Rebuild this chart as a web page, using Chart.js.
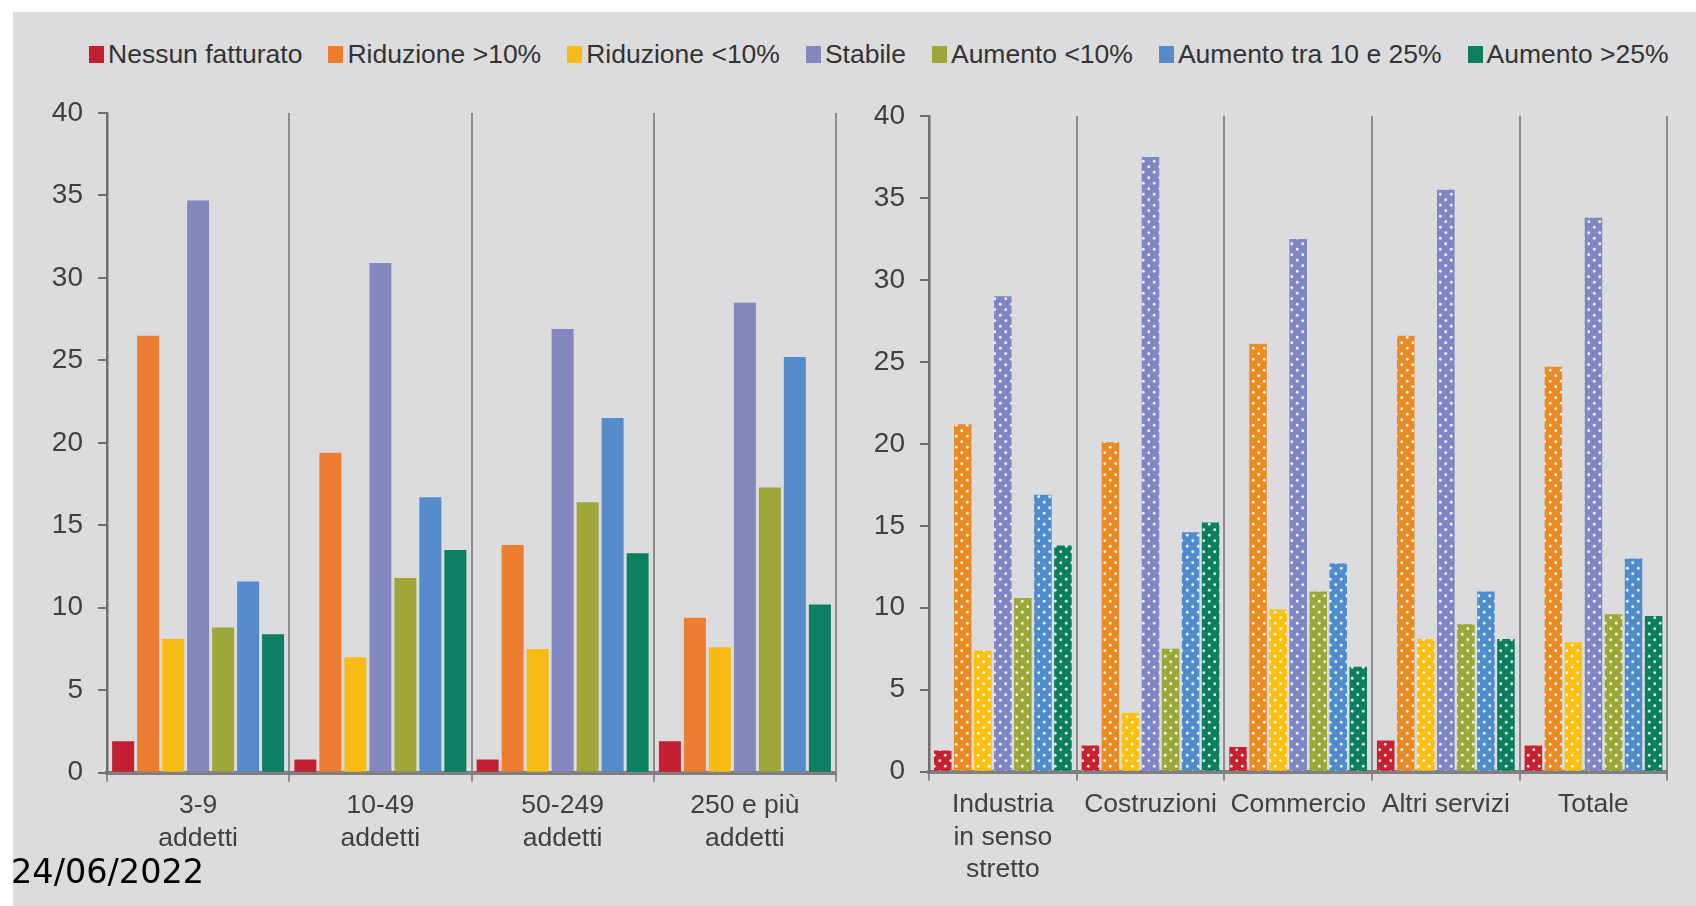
<!DOCTYPE html>
<html lang="it">
<head>
<meta charset="utf-8">
<title>Andamento del fatturato</title>
<script src="https://cdn.jsdelivr.net/npm/chart.js@4.4.1/dist/chart.umd.min.js"></script>
<style>
  html, body { margin: 0; padding: 0; background: #ffffff; }
  #page { position: relative; width: 1696px; height: 906px; overflow: hidden; background: #ffffff;
          font-family: 'Liberation Sans', Arial, sans-serif; }
  #panel { position: absolute; left: 13px; top: 12px; right: 0; bottom: 0; background: #dcdcde; }
  #legend { position: absolute; left: 89px; top: 39px; height: 31px; display: flex; align-items: center;
            white-space: nowrap; font-size: 26.5px; color: #333333; }
  .item { display: flex; align-items: center; margin-right: 26px; }
  .swatch { width: 15px; height: 17px; margin-right: 4px; flex: none; }
  canvas { position: absolute; }
  #sizeChart { left: 13px; top: 84px; }
  #sectorChart { left: 860px; top: 87px; }
  #date { position: absolute; left: 11px; top: 855px; font-family: 'DejaVu Sans', sans-serif;
          font-size: 33.5px; line-height: 33px; color: #000000; white-space: nowrap; }
</style>
</head>
<body>
<div id="page">
  <div id="panel"></div>
  <div id="legend"></div>
  <canvas id="sizeChart" width="840" height="822"></canvas>
  <canvas id="sectorChart" width="836" height="819"></canvas>
  <div id="date">24/06/2022</div>
</div>
<script>
// Series (legend order)
const seriesNames = [
  'Nessun fatturato', 'Riduzione >10%', 'Riduzione <10%', 'Stabile',
  'Aumento <10%', 'Aumento tra 10 e 25%', 'Aumento >25%'
];

// Categories
const sizeCategories = [['3-9', 'addetti'], ['10-49', 'addetti'], ['50-249', 'addetti'], ['250 e più', 'addetti']];
const sectorCategories = [['Industria', 'in senso', 'stretto'], 'Costruzioni', 'Commercio', 'Altri servizi', 'Totale'];

// Y axis ticks (both panels)
const yTicks = [0, 5, 10, 15, 20, 25, 30, 35, 40];

// Per classe di addetti (percentuali)
const sizeNessun      = [1.9, 0.8, 0.8, 1.9];
const sizeRidMag10    = [26.5, 19.4, 13.8, 9.4];
const sizeRidMin10    = [8.1, 7.0, 7.5, 7.6];
const sizeStabile     = [34.7, 30.9, 26.9, 28.5];
const sizeAumMin10    = [8.8, 11.8, 16.4, 17.3];
const sizeAum10_25    = [11.6, 16.7, 21.5, 25.2];
const sizeAumMag25    = [8.4, 13.5, 13.3, 10.2];

// Per settore (percentuali)
const sectorNessun    = [1.3, 1.6, 1.5, 1.9, 1.6];
const sectorRidMag10  = [21.2, 20.1, 26.1, 26.6, 24.7];
const sectorRidMin10  = [7.4, 3.6, 9.9, 8.1, 7.9];
const sectorStabile   = [29.0, 37.5, 32.5, 35.5, 33.8];
const sectorAumMin10  = [10.6, 7.5, 11.0, 9.0, 9.6];
const sectorAum10_25  = [16.9, 14.6, 12.7, 11.0, 13.0];
const sectorAumMag25  = [13.8, 15.2, 6.4, 8.1, 9.5];

const sizeSeries = [sizeNessun, sizeRidMag10, sizeRidMin10, sizeStabile, sizeAumMin10, sizeAum10_25, sizeAumMag25];
const sectorSeries = [sectorNessun, sectorRidMag10, sectorRidMin10, sectorStabile, sectorAumMin10, sectorAum10_25, sectorAumMag25];

const solidColors  = ['#c31f30', '#ed7d31', '#f8bb14', '#8389be', '#9fa73b', '#568bcb', '#0b7f5f'];
const dottedColors = ['#c8202f', '#e98b22', '#fdc010', '#7f86c4', '#9aa83a', '#4f8ccc', '#0a7e5d'];

const FONT = "'Liberation Sans', Arial, sans-serif";
const TEXT_COLOR = '#404040';

// Legend
const legendEl = document.getElementById('legend');
seriesNames.forEach((name, i) => {
  const item = document.createElement('div');
  item.className = 'item';
  const sw = document.createElement('span');
  sw.className = 'swatch';
  sw.style.background = solidColors[i];
  const label = document.createElement('span');
  label.textContent = name;
  item.appendChild(sw);
  item.appendChild(label);
  legendEl.appendChild(item);
});

// White polka-dot fill for the sector panel
function dotPattern(ctx, color) {
  const size = 11;
  const tile = document.createElement('canvas');
  tile.width = size; tile.height = size;
  const g = tile.getContext('2d');
  g.fillStyle = color;
  g.fillRect(0, 0, size, size);
  g.fillStyle = 'rgba(255,255,255,0.9)';
  [[2.75, 2.75], [8.25, 8.25]].forEach(([x, y]) => {
    g.beginPath(); g.arc(x, y, 1.4, 0, Math.PI * 2); g.fill();
  });
  return ctx.createPattern(tile, 'repeat');
}

function buildChart(canvasId, categories, series, fills, cfg) {
  const canvas = document.getElementById(canvasId);
  const ctx = canvas.getContext('2d');
  const datasets = series.map((values, i) => ({
    label: seriesNames[i],
    data: values,
    backgroundColor: fills(ctx, i),
    borderWidth: 0,
    categoryPercentage: cfg.categoryPercentage,
    barPercentage: cfg.barPercentage
  }));
  return new Chart(ctx, {
    type: 'bar',
    data: { labels: categories, datasets },
    options: {
      responsive: false,
      animation: false,
      events: [],
      layout: { padding: cfg.padding },
      plugins: { legend: { display: false }, tooltip: { enabled: false } },
      scales: {
        x: {
          z: 1,
          offset: true,
          grid: { display: true, offset: true, drawOnChartArea: true, drawTicks: true,
                  tickLength: 9, color: '#8c8c8c', lineWidth: 2 },
          border: { display: true, color: '#7f7f7f', width: 4 },
          ticks: { color: TEXT_COLOR, padding: 8, maxRotation: 0, autoSkip: false,
                   font: { family: FONT, size: 26.5, lineHeight: 1.22 } },
          afterFit: (scale) => { scale.height = cfg.xHeight; }
        },
        y: {
          min: yTicks[0],
          max: yTicks[yTicks.length - 1],
          afterBuildTicks: (scale) => { scale.ticks = yTicks.map(v => ({ value: v })); },
          grid: { display: true, drawOnChartArea: false, drawTicks: true, tickLength: 9,
                  color: '#6e6e6e', lineWidth: 2 },
          border: { display: true, color: '#6e6e6e', width: 2.5 },
          ticks: { color: TEXT_COLOR, padding: 15,
                   font: { family: FONT, size: 28, lineHeight: 1 } },
          afterFit: (scale) => { scale.width = cfg.yWidth; }
        }
      }
    }
  });
}

buildChart('sizeChart', sizeCategories, sizeSeries,
  (ctx, i) => solidColors[i],
  { categoryPercentage: 0.96, barPercentage: 0.88,
    padding: { top: 0, right: 17, bottom: 0, left: 0 },
    yWidth: 94, xHeight: 133.3 });

buildChart('sectorChart', sectorCategories, sectorSeries,
  (ctx, i) => dotPattern(ctx, dottedColors[i]),
  { categoryPercentage: 0.95, barPercentage: 0.875,
    padding: { top: 0, right: 28.7, bottom: 0, left: 0 },
    yWidth: 69, xHeight: 134.3 });
</script>
</body>
</html>
